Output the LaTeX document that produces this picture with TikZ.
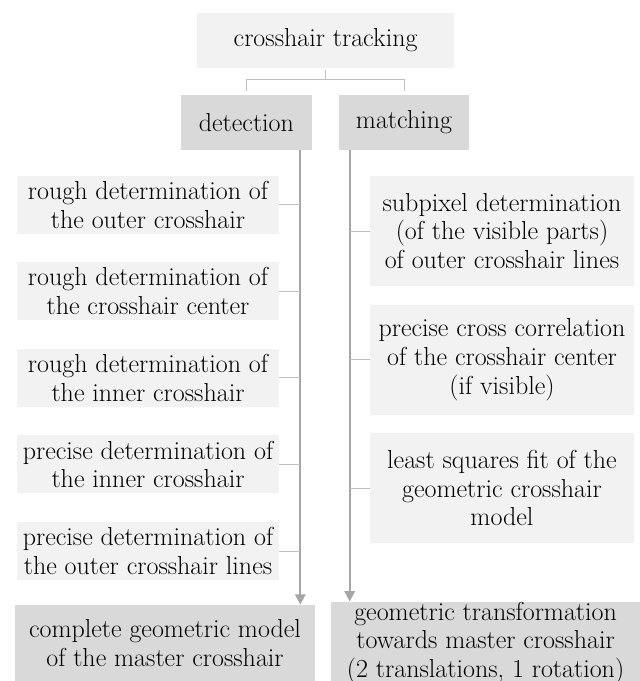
\documentclass[tikz,border=0pt]{standalone}
\usepackage{tikz}
\usetikzlibrary{arrows.meta, positioning, calc}
\usepackage{xcolor}
\definecolor{boxlight}{HTML}{F2F2F2}
\definecolor{boxdark}{HTML}{D9D9D9}
\definecolor{linelight}{HTML}{BFBFBF}
\definecolor{linedark}{HTML}{A6A6A6}

\begin{document}
\begin{tikzpicture}[
    every node/.style={font=\fontsize{18.5pt}{20.5pt}\selectfont, text=black},
    head/.style={fill=boxlight, minimum width=6.43cm, minimum height=1.375cm, align=center, inner sep=0pt},
    branch/.style={fill=boxdark, minimum height=1.375cm, align=center, inner sep=0pt},
    lstep/.style={fill=boxlight, minimum width=6.55cm, minimum height=1.45cm, align=center, inner sep=0pt},
    rstep/.style={fill=boxlight, minimum width=6.6cm, minimum height=2.75cm, align=center, inner sep=0pt},
    result/.style={fill=boxdark, minimum height=1.9cm, align=center, inner sep=0pt},
    tick/.style={draw=linelight, line width=0.7pt},
    trunk/.style={-{Triangle[length=0.26cm, width=0.26cm]}, draw=linedark, fill=linedark, line width=1.5pt}
]
    \useasboundingbox (0,0) rectangle (16,-17.025);

    % Top
    \node[head] (track) at (8.14,-1.01) {crosshair tracking};
    \node[branch, minimum width=3.28cm] (detect) at (6.16,-3.06) {detection};
    \node[branch, minimum width=3.25cm] (match) at (10.1,-3.06) {matching};

    % Detection steps
    \node[lstep] (rough1) at (3.7,-5.12) {rough determination of\\the outer crosshair};
    \node[lstep, below=0.7cm of rough1] (rough2) {rough determination of\\the crosshair center};
    \node[lstep, below=0.7cm of rough2] (rough3) {rough determination of\\the inner crosshair};
    \node[lstep, below=0.7cm of rough3] (prec1) {precise determination of\\the inner crosshair};
    \node[lstep, below=0.7cm of prec1] (prec2) {precise determination of\\the outer crosshair lines};

    % Matching steps
    \node[rstep] (subpix) at (12.55,-5.775) {subpixel determination\\(of the visible parts)\\of outer crosshair lines};
    \node[rstep, below=0.45cm of subpix] (corr) {precise cross correlation\\of the crosshair center\\(if visible)};
    \node[rstep, below=0.45cm of corr] (lsq) {least squares fit of the\\geometric crosshair\\model};

    % Results
    \node[result, minimum width=7.5cm] (model) at (4.125,-16.075) {complete geometric model\\of the master crosshair};
    \node[result, minimum width=7.73cm] (transf) at (12.14,-16.075) {geometric transformation\\towards master crosshair\\(2 translations, 1 rotation)};

    % Connectors
    \draw[tick] ([yshift=0.08cm]detect.north) -- ++(0,0.3) -| ([yshift=-0.05cm]track.south);
    \draw[tick] ([yshift=0.08cm]match.north) -- ++(0,0.3) -| ([yshift=-0.05cm]track.south);

    \draw[trunk] ([xshift=-0.3cm]detect.south east) coordinate (ltop) -- (ltop |- model.north);
    \draw[trunk] ([xshift=0.275cm]match.south west) coordinate (rtop) -- (rtop |- transf.north);

    \foreach \n in {rough1, rough2, rough3, prec1, prec2}
        \draw[tick] (\n.east) -- (\n.east -| ltop);
    \foreach \n in {subpix, corr, lsq}
        \draw[tick] (\n.west) -- (\n.west -| rtop);
\end{tikzpicture}
\end{document}
